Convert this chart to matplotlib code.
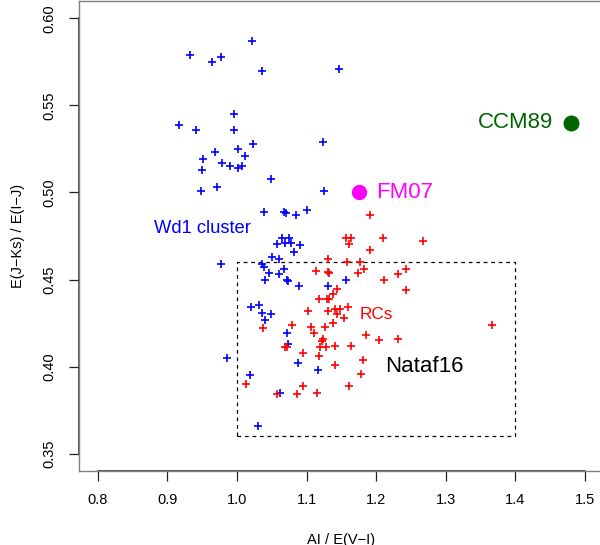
import matplotlib
matplotlib.use("Agg")
import matplotlib.pyplot as plt
from matplotlib.patches import Rectangle
import matplotlib.transforms as mtransforms

plt.rcParams['font.family'] = ['Liberation Sans', 'DejaVu Sans']

# Wd1 cluster members
wd1_x = [1.022, 0.933, 0.964, 0.977, 1.036, 1.147, 0.996, 0.917, 0.941, 0.996,
         1.124, 1.023, 0.969, 1.002, 1.012, 0.951, 0.978, 0.990, 1.002, 1.007,
         0.950, 1.049, 0.948, 0.971, 1.125, 1.039, 1.068, 1.071, 1.085, 1.100,
         1.065, 1.075, 1.058, 1.069, 1.077, 1.090, 1.082, 1.051, 1.061, 0.977,
         1.036, 1.039, 1.046, 1.068, 1.061, 1.040, 1.072, 1.074, 1.089, 1.157,
         1.131, 1.020, 1.032, 1.036, 1.049, 1.040, 1.072, 1.074, 0.985, 1.019,
         1.088, 1.116, 1.062, 1.030]
wd1_y = [0.587, 0.579, 0.575, 0.578, 0.570, 0.571, 0.545, 0.539, 0.536, 0.536,
         0.529, 0.528, 0.523, 0.525, 0.521, 0.519, 0.517, 0.515, 0.514, 0.515,
         0.513, 0.508, 0.501, 0.503, 0.501, 0.489, 0.489, 0.488, 0.487, 0.490,
         0.474, 0.474, 0.4705, 0.471, 0.471, 0.470, 0.466, 0.463, 0.462, 0.459,
         0.459, 0.457, 0.454, 0.456, 0.453, 0.450, 0.450, 0.449, 0.4465, 0.450,
         0.446, 0.4345, 0.4356, 0.431, 0.430, 0.427, 0.419, 0.413, 0.4047, 0.395,
         0.402, 0.398, 0.3846, 0.3656]

# red clump stars
rc_x = [1.192, 1.157, 1.164, 1.161, 1.210, 1.267, 1.192, 1.131, 1.158, 1.177,
        1.113, 1.1305, 1.133, 1.1745, 1.183, 1.211, 1.231, 1.243, 1.243, 1.1435,
        1.138, 1.118, 1.129, 1.132, 1.102, 1.1305, 1.141, 1.148, 1.160, 1.144,
        1.1535, 1.037, 1.079, 1.1065, 1.1115, 1.127, 1.138, 1.185, 1.205, 1.232,
        1.367, 1.124, 1.1227, 1.069, 1.072, 1.119, 1.1275, 1.141, 1.164, 1.0945,
        1.118, 1.182, 1.141, 1.179, 1.013, 1.095, 1.161, 1.058, 1.086, 1.115]
rc_y = [0.487, 0.474, 0.474, 0.4705, 0.474, 0.472, 0.467, 0.4617, 0.460, 0.460,
        0.4548, 0.4544, 0.4536, 0.4535, 0.456, 0.4496, 0.4533, 0.456, 0.444, 0.4448,
        0.4414, 0.4387, 0.4387, 0.4387, 0.432, 0.432, 0.433, 0.433, 0.434, 0.430,
        0.428, 0.4224, 0.424, 0.423, 0.419, 0.423, 0.425, 0.418, 0.415, 0.416,
        0.424, 0.416, 0.4145, 0.4115, 0.4115, 0.4115, 0.4115, 0.412, 0.412, 0.408,
        0.406, 0.404, 0.401, 0.396, 0.390, 0.3886, 0.3886, 0.384, 0.384, 0.3846]

# extinction laws
fm07 = (1.175, 0.500)
ccm89 = (1.48, 0.540)

# Nataf16 range
nataf_x = (1.0, 1.4)
nataf_y = (0.36, 0.46)

xticks = [0.8, 0.9, 1.0, 1.1, 1.2, 1.3, 1.4, 1.5]
yticks = [0.35, 0.40, 0.45, 0.50, 0.55, 0.60]

fig = plt.figure(figsize=(6, 5.45), dpi=100)
ax = fig.add_axes([79 / 600, 1 - 471 / 545, 525 / 600, 470 / 545])

ax.plot(wd1_x, wd1_y, '+', color='blue', ms=6, mew=1.2, ls='none')
ax.plot(rc_x, rc_y, '+', color='red', ms=6, mew=1.2, ls='none')
ax.plot(*fm07, 'o', color='#ff00ff', ms=10)
ax.plot(*ccm89, 'o', color='darkgreen', ms=10.5)

ax.add_patch(Rectangle((nataf_x[0], nataf_y[0]), nataf_x[1] - nataf_x[0],
                       nataf_y[1] - nataf_y[0], fill=False, ec='black',
                       lw=0.9, ls=(0, (3, 3))))

ax.annotate('FM07', xy=fm07, xytext=(12.5, 0), textcoords='offset points',
            color='#ff00ff', fontsize=16, va='center', ha='left')
ax.annotate('CCM89', xy=ccm89, xytext=(-12.5, 0), textcoords='offset points',
            color='darkgreen', fontsize=16, va='center', ha='right')
ax.text(0.951, 0.4795, 'Wd1 cluster', color='blue', fontsize=13.2,
        ha='center', va='center')
ax.text(1.2, 0.43, 'RCs', color='red', fontsize=12.4, ha='center', va='center')
ax.text(1.27, 0.40, 'Nataf16', color='black', fontsize=16,
        ha='center', va='center')

ax.set_xlim(0.7727, 1.528)
ax.set_ylim(0.34, 0.61)
ax.set_xticks(xticks)
ax.set_xticklabels(['%.1f' % v for v in xticks])
ax.set_yticks(yticks)
ax.set_yticklabels(['%.2f' % v for v in yticks], rotation=90, va='center')
ax.tick_params(direction='out', length=7, width=0.9, labelsize=10.5,
               pad=9, color='#222222')

for sp in ax.spines.values():
    sp.set_color('#808080')
    sp.set_linewidth(1.0)

# axis lines spanning first to last tick
tx = mtransforms.blended_transform_factory(ax.transData, ax.transAxes)
ty = mtransforms.blended_transform_factory(ax.transAxes, ax.transData)
ax.plot([xticks[0], xticks[-1]], [0, 0], color='#222222', lw=1.1,
        transform=tx, clip_on=False)
ax.plot([0, 0], [yticks[0], yticks[-1]], color='#222222', lw=1.1,
        transform=ty, clip_on=False)

ax.set_xlabel('AI / E(V\u2212I)', fontsize=10.5, va='center')
ax.set_ylabel('E(J\u2212Ks) / E(I\u2212J)', fontsize=10.5, va='center')
ax.xaxis.set_label_coords(0.5, -0.1468)
ax.yaxis.set_label_coords(-0.1162, 0.5)

fig.savefig('out.png', dpi=100)
